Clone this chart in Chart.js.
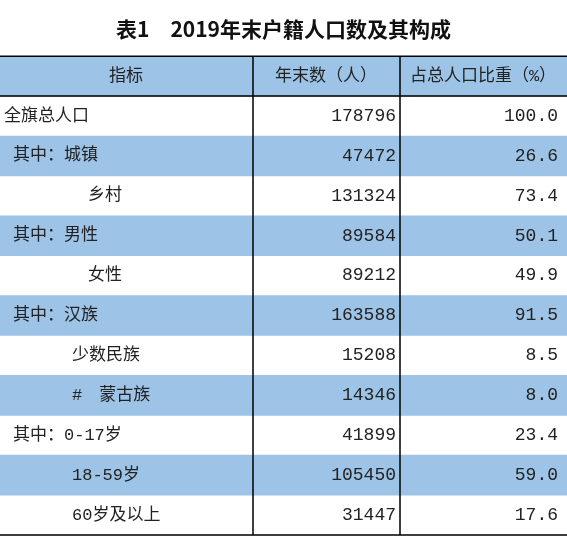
<!DOCTYPE html>
<html><head><meta charset="utf-8">
<script src="https://cdn.jsdelivr.net/npm/chart.js@4/dist/chart.umd.min.js"></script>
<style>html,body{margin:0;background:#fff}#c{display:block}</style>
</head><body>
<div style="width:567px;height:550px"><canvas id="c"></canvas></div>
<script>
// table rows
const headers = ['指标', '年末数（人）', '占总人口比重（%）'];
const labels = ['全旗总人口', '其中：城镇', '乡村', '其中：男性', '女性', '其中：汉族', '少数民族', '#　蒙古族', '其中：0-17岁', '18-59岁', '60岁及以上'];
const indent = [4, 13, 88, 13, 88, 13, 72, 72, 13, 72, 72];
const counts = [178796, 47472, 131324, 89584, 89212, 163588, 15208, 14346, 41899, 105450, 31447];
const shares = ['100.0', '26.6', '73.4', '50.1', '49.9', '91.5', '8.5', '8.0', '23.4', '59.0', '17.6'];
const shaded = [true, false, true, false, true, false, true, false, true, false, true, false]; // header + rows

const BLUE = '#9dc3e6';
const rows = ['h'].concat(labels);
const colLines = [253, 400];
const FONT = '"Liberation Mono","Noto Sans CJK SC",monospace';

const tablePlugin = {
  id: 'table',
  afterDatasetsDraw(chart) {
    const {ctx, scales: {x, y}} = chart;
    const h = y.getPixelForValue(1) - y.getPixelForValue(0);
    const top = y.getPixelForValue(0) - h / 2;
    const bottom = y.getPixelForValue(rows.length - 1) + h / 2;
    ctx.save();
    ctx.fillStyle = '#222';
    ctx.textBaseline = 'middle';
    ctx.font = '17px ' + FONT;
    const hy = y.getPixelForValue(0);
    ctx.textAlign = 'center';
    ctx.fillText(headers[0], x.getPixelForValue(126), hy);
    ctx.fillText(headers[1], x.getPixelForValue(326), hy);
    ctx.fillText(headers[2], x.getPixelForValue(483), hy);
    labels.forEach((l, i) => {
      const py = y.getPixelForValue(i + 1);
      ctx.font = '17px ' + FONT;
      ctx.textAlign = 'left';
      ctx.fillText(l, x.getPixelForValue(indent[i]), py);
      ctx.font = '18px ' + FONT;
      ctx.textAlign = 'right';
      ctx.fillText(String(counts[i]), x.getPixelForValue(396), py);
      ctx.fillText(shares[i], x.getPixelForValue(558), py);
    });
    ctx.strokeStyle = '#000';
    ctx.lineWidth = 1.5;
    ctx.beginPath();
    [top, top + h, bottom].forEach(v => { ctx.moveTo(0, v); ctx.lineTo(chart.width, v); });
    colLines.forEach(c => { const px = x.getPixelForValue(c); ctx.moveTo(px, top); ctx.lineTo(px, bottom); });
    ctx.stroke();
    ctx.restore();
  }
};

new Chart(document.getElementById('c'), {
  type: 'bar',
  data: {
    labels: rows,
    datasets: [{
      data: rows.map(() => [0, 567]),
      backgroundColor: shaded.map(s => s ? BLUE : 'rgba(0,0,0,0)'),
      barPercentage: 1,
      categoryPercentage: 1
    }]
  },
  options: {
    indexAxis: 'y',
    responsive: true,
    maintainAspectRatio: false,
    animation: false,
    layout: {padding: {top: 0, bottom: 15, left: 0, right: 0}},
    scales: {
      x: {min: 0, max: 567, display: false},
      y: {display: false}
    },
    plugins: {
      legend: {display: false},
      tooltip: {enabled: false},
      title: {
        display: true,
        text: '表1　2019年末户籍人口数及其构成',
        color: '#111',
        font: {size: 21, weight: 'bold', family: '"Noto Sans CJK SC"'},
        padding: {top: 16, bottom: 15}
      }
    }
  },
  plugins: [tablePlugin]
});
</script>
</body></html>
